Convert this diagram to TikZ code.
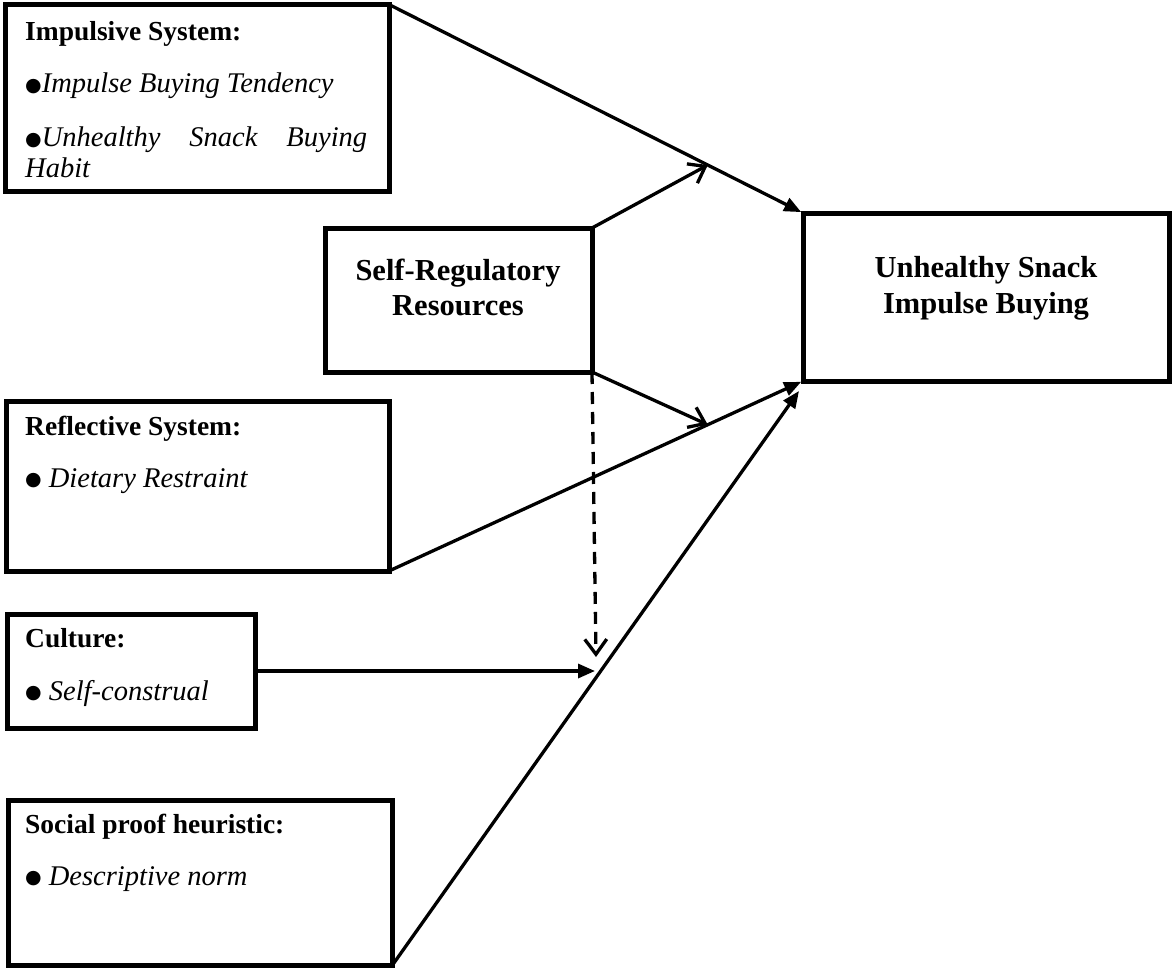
\documentclass[tikz,border=0pt]{standalone}
\usepackage{fontspec}
\setmainfont{Liberation Serif}
\newfontfamily\symfont{DejaVu Sans}
\usetikzlibrary{arrows.meta,calc}

% filled bullet used in front of the list items
\newcommand\dotmark{\raisebox{1.5pt}{\symfont\fontsize{19}{19}\selectfont ●}}

\begin{document}
\begin{tikzpicture}[x=1pt,y=-1pt,
  box/.style={draw, line width=5pt, rectangle, outer sep=0pt, inner sep=0pt, anchor=north west},
  head/.style={font=\fontsize{27.5}{30}\selectfont\bfseries, anchor=base west, inner sep=0pt},
  item/.style={font=\fontsize{28.5}{30}\selectfont\itshape, anchor=base west, inner sep=0pt},
  title/.style={font=\fontsize{30.5}{35}\selectfont\bfseries, anchor=base, inner sep=0pt},
  link/.style={line width=3.3pt, -{Triangle[length=17pt,width=14pt]}},
  joint/.style={line width=3.3pt, -{Straight Barb[length=15pt,width=22pt]}},
]
\useasboundingbox (0,0) rectangle (1173,971);
\fill[white] (0,0) rectangle (1173,971);

% boxes
\node[box, minimum width=383.5pt, minimum height=186.5pt] (imp)  at (5.5,4.5) {};
\node[box, minimum width=267pt,   minimum height=144pt]   (sr)   at (325,228) {};
\node[box, minimum width=366pt,   minimum height=168pt]   (out)  at (803,213) {};
\node[box, minimum width=383pt,   minimum height=170pt]   (refl) at (6,401) {};
\node[box, minimum width=248pt,   minimum height=114pt]   (cult) at (7,614) {};
\node[box, minimum width=384pt,   minimum height=165pt]   (soc)  at (8.5,800) {};

% impulsive system
\node[head] (impT) at (25,41) {Impulsive System:};
\node[item] (impA) at (25,93) {\dotmark Impulse Buying Tendency};
\node[item] (impB) at (25,147) {\hbox to 342pt{\dotmark Unhealthy\hfill Snack\hfill Buying}};
\node[item] (impC) at (25,178) {Habit};

% reflective system
\node[head] (reflT) at (25,435) {Reflective System:};
\node[item] (reflA) at (25,487) {\dotmark\ Dietary Restraint};

% culture
\node[head] (cultT) at (25,647) {Culture:};
\node[item] (cultA) at (25,700) {\dotmark\ Self-construal};

% social proof
\node[head] (socT) at (25,833) {Social proof heuristic:};
\node[item] (socA) at (25,885) {\dotmark\ Descriptive norm};

% central and outcome boxes
\node[title] (srT1) at (458,280) {Self-Regulatory};
\node[title] (srT2) at (458,315) {Resources};
\node[title] (outT1) at (986,277) {Unhealthy Snack};
\node[title] (outT2) at (986,313) {Impulse Buying};

% connectors
\coordinate (m1) at ($(imp.north east)!0.77!(out.north west)$);
\coordinate (m2) at ($(refl.south east)!0.77!(out.south west)$);
\coordinate (s5) at ($(out.south west)+(-4,10)$);
\coordinate (m3) at ($(cult.east)+(340,0)$);
\coordinate (m4) at ($(sr.south east)+(4,285)$);

\draw[link, shorten >=2pt] (imp.north east) -- (out.north west);
\draw[joint] (sr.north east) -- (m1);
\draw[link, shorten >=2pt] (refl.south east) -- (out.south west);
\draw[joint] (sr.south east) -- (m2);
\draw[link] (soc.south east) -- (s5);
\draw[link] (cult.east) -- (m3);
\draw[joint, dash pattern=on 12pt off 8pt] (sr.south east) -- (m4);
\end{tikzpicture}
\end{document}
